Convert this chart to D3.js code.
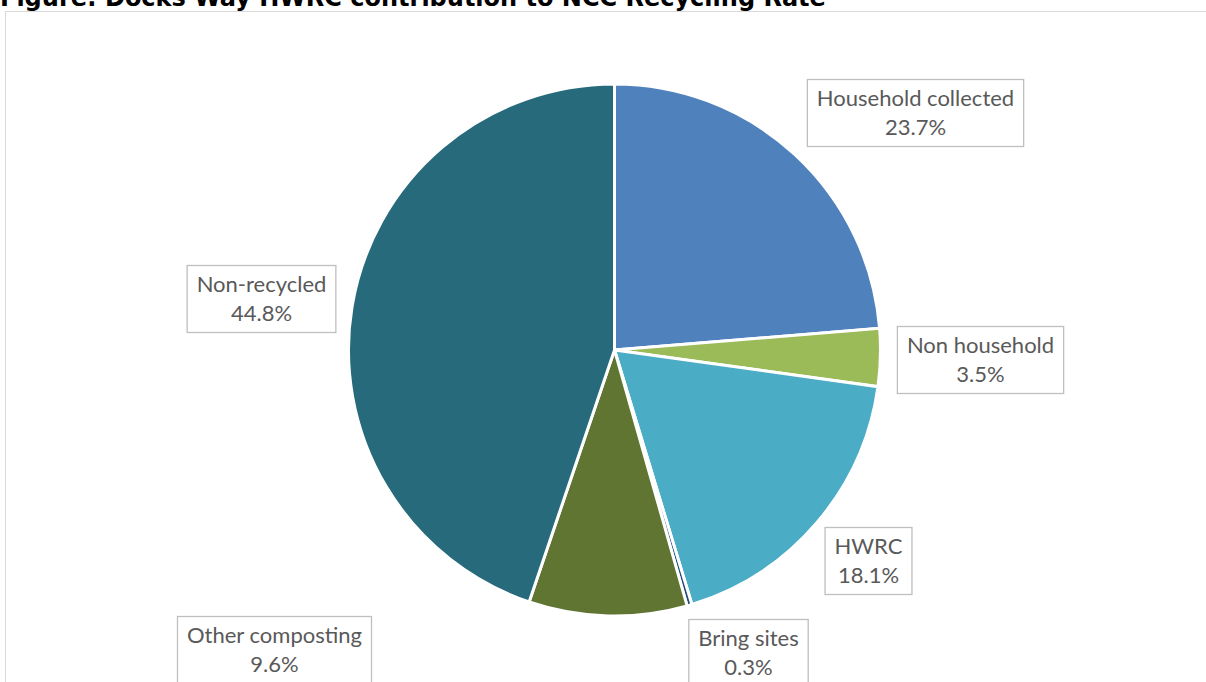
<!DOCTYPE html>
<html>
<head>
<meta charset="utf-8">
<script src="https://cdn.jsdelivr.net/npm/d3@7"></script>
<style>
  html, body { margin: 0; padding: 0; background: #fff; }
  svg { display: block; }
</style>
</head>
<body>
<svg id="chart" width="1206" height="682"></svg>
<script>
// Recycling rate breakdown (share of total waste, %)
const categories = ["Household collected", "Non household", "HWRC", "Bring sites", "Other composting", "Non-recycled"];
const shares = [23.7, 3.5, 18.1, 0.3, 9.6, 44.8];
const sliceColors = ["#4F81BD", "#9BBB59", "#4BACC6", "#1F497D", "#607532", "#276A7C"];

// Label box centres, offset from the pie centre (px)
const labelOffsets = [[301, -237], [366, 10], [254, 211], [134, 303], [-340, 300], [-353, -51]];

const W = 1206, H = 682;
const cx = 614.5, cy = 350, radius = 266;

const svg = d3.select("#chart");

// Chart frame
svg.append("rect")
  .attr("x", 5.5).attr("y", 11.5)
  .attr("width", W + 10).attr("height", H + 10)
  .attr("fill", "#fff")
  .attr("stroke", "#D9D9D9").attr("stroke-width", 1);

// Title (sits partly above the page edge)
svg.append("text")
  .attr("x", 0).attr("y", 6)
  .attr("font-family", "DejaVu Sans, Verdana, sans-serif")
  .attr("font-weight", "bold")
  .attr("font-size", 24)
  .attr("fill", "#000")
  .text("Figure: Docks Way HWRC contribution to NCC Recycling Rate");

const data = categories.map((c, i) => ({ name: c, value: shares[i], color: sliceColors[i], offset: labelOffsets[i] }));

const pie = d3.pie().value(d => d.value).sort(null);
const arc = d3.arc().innerRadius(0).outerRadius(radius);

const g = svg.append("g").attr("transform", `translate(${cx},${cy})`);

g.selectAll("path.slice")
  .data(pie(data))
  .join("path")
  .attr("class", "slice")
  .attr("d", arc)
  .attr("fill", d => d.data.color)
  .attr("stroke", "#fff")
  .attr("stroke-width", 3)
  .attr("stroke-linejoin", "miter");

// Data labels: category name + percentage inside a bordered box
const fontFamily = "Lato, 'Open Sans', sans-serif";
const fontSize = 22;
const lineGap = 29;
const padX = 9.5, boxH = 67;

const labels = g.selectAll("g.label")
  .data(data)
  .join("g")
  .attr("class", "label")
  .attr("transform", d => `translate(${d.offset[0]},${d.offset[1]})`);

const box = labels.append("rect")
  .attr("fill", "#fff")
  .attr("stroke", "#BFBFBF")
  .attr("stroke-width", 1.3);

const txt = labels.append("text")
  .attr("text-anchor", "middle")
  .attr("font-family", fontFamily)
  .attr("font-size", fontSize)
  .attr("fill", "#595959");

txt.append("tspan").attr("x", 0).attr("y", -lineGap / 2).attr("dy", "0.35em").text(d => d.name);
txt.append("tspan").attr("x", 0).attr("y", lineGap / 2).attr("dy", "0.35em").text(d => d.value.toFixed(1) + "%");

txt.each(function(d) {
  const w = d3.max(Array.from(this.querySelectorAll("tspan")), t => t.getComputedTextLength());
  d.boxW = w + 2 * padX;
});
box
  .attr("x", d => -d.boxW / 2)
  .attr("y", -boxH / 2)
  .attr("width", d => d.boxW)
  .attr("height", boxH);
</script>
</body>
</html>
